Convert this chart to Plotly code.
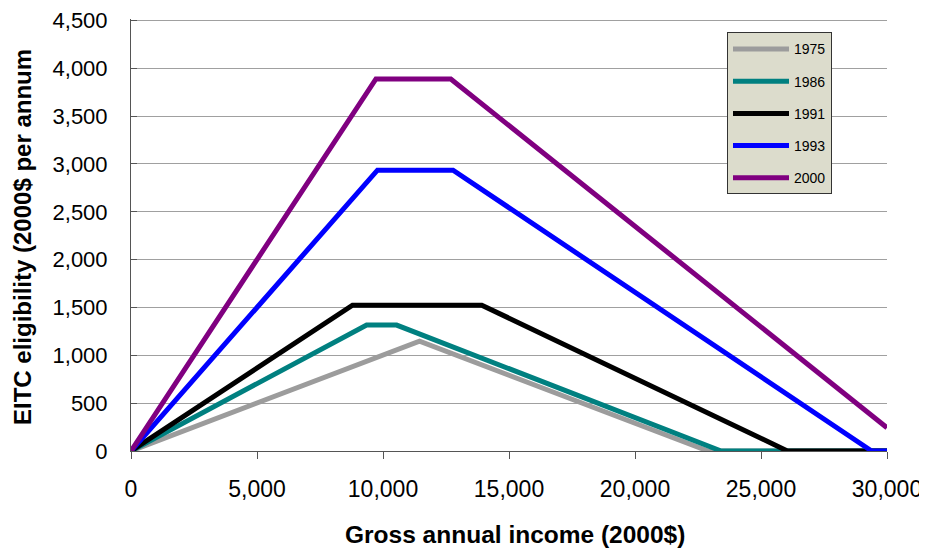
import plotly.graph_objects as go

# Series: (income, EITC) vertices (2000$)
years = ["1975", "1986", "1991", "1993", "2000"]
income_1975 = [0, 11450, 22900, 30000]
eitc_1975 = [0, 1148, 0, 0]
income_1986 = [0, 9350, 10540, 23420, 30000]
eitc_1986 = [0, 1316, 1316, 0, 0]
income_1991 = [0, 8790, 13920, 26050, 30000]
eitc_1991 = [0, 1524, 1524, 0, 0]
income_1993 = [0, 9780, 12780, 29390, 30000]
eitc_1993 = [0, 2935, 2935, 0, 0]
income_2000 = [0, 9720, 12690, 30000]
eitc_2000 = [0, 3888, 3888, 243]

x_ticks = [0, 5000, 10000, 15000, 20000, 25000, 30000]
y_ticks = [0, 500, 1000, 1500, 2000, 2500, 3000, 3500, 4000, 4500]

colors = ["#9C9C9C", "#008080", "#000000", "#0000FF", "#800080"]
xs = [income_1975, income_1986, income_1991, income_1993, income_2000]
ys = [eitc_1975, eitc_1986, eitc_1991, eitc_1993, eitc_2000]

FONT = "Liberation Sans, Arial, sans-serif"
Y_TOP = 4515  # small headroom so the 4,500 gridline/tick is drawn

fig = go.Figure()
for name, x, y, c in zip(years, xs, ys, colors):
    fig.add_trace(go.Scatter(x=x, y=y, mode="lines", name=name, legendgroup=name,
                             line=dict(color=c, width=5)))

plot_h = 431 * Y_TOP / 4500
top_m = 451 - plot_h - 8  # page body adds an 8px offset

fig.update_layout(
    width=919, height=544,
    margin=dict(l=123, r=40, t=top_m, b=101),
    paper_bgcolor="white", plot_bgcolor="white",
    font=dict(family=FONT, color="black"),
    showlegend=True,
    legend=dict(x=(727 - 131) / 756, y=(451 - 32) / plot_h, xanchor="left", yanchor="top",
                bgcolor="#DCDCCC", bordercolor="#333333", borderwidth=1,
                font=dict(size=14, family=FONT), tracegroupgap=11,
                itemwidth=56),
    xaxis=dict(range=[0, 30000], tickvals=x_ticks, tickformat=",", showgrid=False,
               zeroline=False, showline=True, linecolor="#555555", linewidth=1,
               ticks="outside", ticklen=7, tickcolor="#555555", automargin=False,
               tickfont=dict(size=23, family=FONT), ticklabelstandoff=10),
    yaxis=dict(range=[0, Y_TOP], tickvals=y_ticks, tickformat=",", showgrid=True,
               gridcolor="#A0A0A0", gridwidth=1, zeroline=False, showline=True,
               linecolor="#555555", linewidth=1, ticks="inside", ticklen=6,
               tickcolor="#555555", tickfont=dict(size=22, family=FONT),
               ticklabelstandoff=18, automargin=False),
    annotations=[
        dict(text="<b>Gross annual income (2000$)</b>", xref="paper", yref="paper",
             x=(515 - 131) / 756, y=(451 - 535) / plot_h, xanchor="center", yanchor="middle",
             showarrow=False, font=dict(size=24.5, family=FONT)),
        dict(text="<b>EITC eligibility (2000$ per annum</b>", xref="paper", yref="paper",
             x=(22 - 131) / 756, y=(451 - 427) / plot_h, xanchor="center", yanchor="bottom",
             textangle=-90, showarrow=False, font=dict(size=24, family=FONT)),
    ],
)

fig.write_html("out.html")
